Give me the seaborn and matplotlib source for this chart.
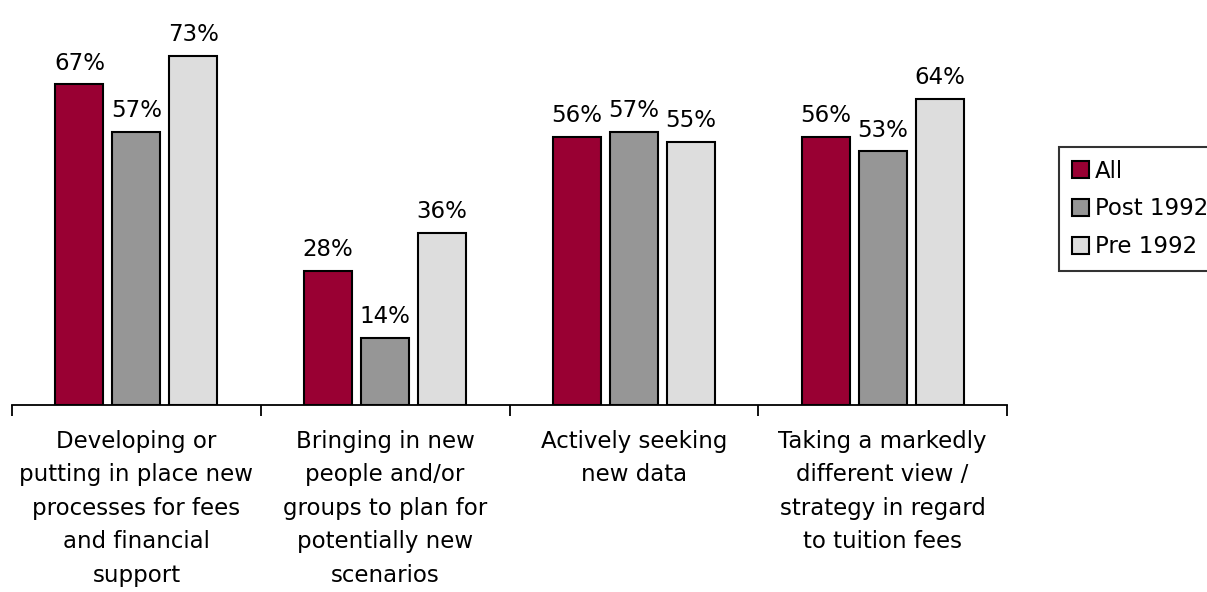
import pandas as pd
import seaborn as sns
import matplotlib.pyplot as plt
from matplotlib.ticker import FixedLocator

# ================= DATA =================
categories = [
    "Developing or\nputting in place new\nprocesses for fees\nand financial\nsupport",
    "Bringing in new\npeople and/or\ngroups to plan for\npotentially new\nscenarios",
    "Actively seeking\nnew data",
    "Taking a markedly\ndifferent view /\nstrategy in regard\nto tuition fees",
]
series = ["All", "Post 1992", "Pre 1992"]
all_vals = [67, 28, 56, 56]
post_vals = [57, 14, 57, 53]
pre_vals = [73, 36, 55, 64]
colors = ["#990033", "#969696", "#DDDDDD"]

#=======================

def main():
    rows = []
    for name, vals in zip(series, [all_vals, post_vals, pre_vals]):
        for cat, v in zip(categories, vals):
            rows.append({"Category": cat, "Group": name, "Value": v})
    df = pd.DataFrame(rows)

    sns.set_theme(style="white")
    plt.rcParams['font.family'] = ['DejaVu Sans']
    plt.rcParams['text.color'] = 'black'

    fig = plt.figure(figsize=(12.07, 5.92), dpi=100)
    ax = fig.add_axes([12 / 1207, 187 / 592, 995 / 1207, 383 / 592])

    sns.barplot(
        data=df, x="Category", y="Value", hue="Group",
        palette=colors, width=0.687, gap=0.157,
        edgecolor="black", linewidth=1.5, saturation=1,
        errorbar=None, ax=ax,
    )

    for cont in ax.containers:
        ax.bar_label(cont, fmt="%d%%", padding=7, fontsize=16.5, color="black")

    ax.set_xlim(-0.5, 3.5)
    ax.set_ylim(0, 80)
    ax.set_yticks([])
    ax.set_xlabel("")
    ax.set_ylabel("")

    for side in ["top", "right", "left"]:
        ax.spines[side].set_visible(False)
    ax.spines["bottom"].set_color("black")
    ax.spines["bottom"].set_linewidth(1.3)

    # group boundary tick marks, labels centered without ticks
    ax.xaxis.set_minor_locator(FixedLocator([-0.5, 0.5, 1.5, 2.5, 3.5]))
    ax.tick_params(axis="x", which="minor", direction="out", length=8,
                   width=1.3, color="black", bottom=True)
    ax.tick_params(axis="x", which="major", length=0, pad=18,
                   labelsize=16.5, labelcolor="black")
    for lbl in ax.get_xticklabels():
        lbl.set_linespacing(1.58)

    leg = ax.legend(
        loc="upper left", bbox_to_anchor=(1059 / 1207, 1 - 147 / 592),
        bbox_transform=fig.transFigure, frameon=True, fancybox=False,
        fontsize=16.5, handlelength=0.75, handleheight=0.75,
        handletextpad=0.25, borderaxespad=0, borderpad=0.55,
        labelspacing=0.65, title=None,
    )
    leg.get_frame().set_edgecolor("black")
    leg.get_frame().set_linewidth(1.5)
    for h in leg.legend_handles:
        h.set_edgecolor("black")
        h.set_linewidth(1.5)
    for t in leg.get_texts():
        t.set_color("black")

    plt.savefig("out.png", dpi=100)


if __name__ == "__main__":
    main()
